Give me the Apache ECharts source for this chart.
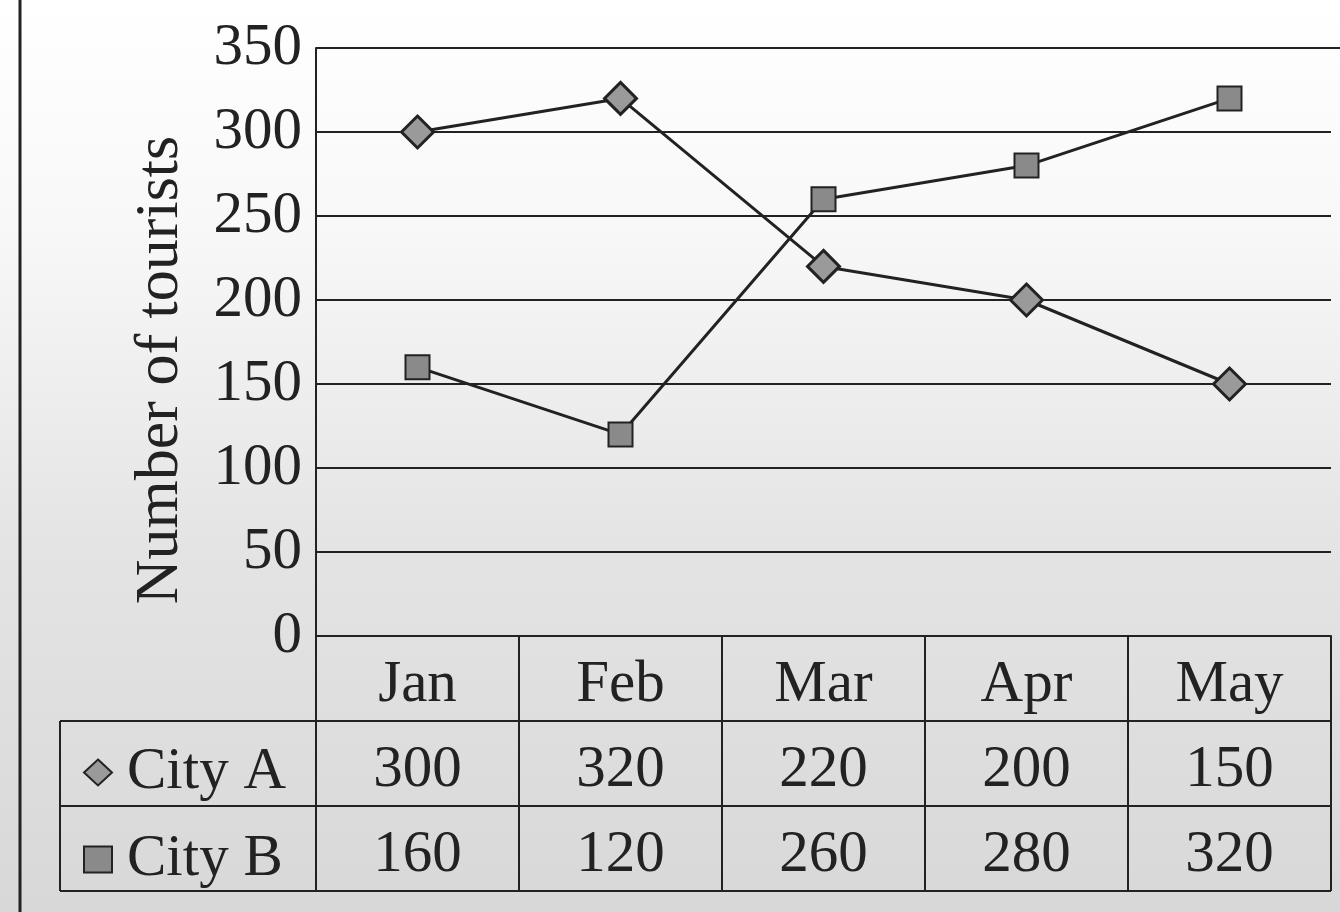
<!DOCTYPE html>
<html>
<head>
<meta charset="utf-8">
<script src="https://cdn.jsdelivr.net/npm/echarts@6/dist/echarts.min.js"></script>
<style>html,body{margin:0;padding:0;background:#fff}#c{width:1340px;height:912px}</style>
</head>
<body>
<div id="c"></div>
<script>
var months = ['Jan', 'Feb', 'Mar', 'Apr', 'May'];
var cityA = [300, 320, 220, 200, 150];
var cityB = [160, 120, 260, 280, 320];
var yTicks = [0, 50, 100, 150, 200, 250, 300, 350];
var seriesNames = ['City A', 'City B'];

var FONT = '"Liberation Serif", "DejaVu Serif", serif';
var INK = '#222';
var FS = 59;
var chart = echarts.init(document.getElementById('c'));
var rowH = 85;

var option = {
  animation: false,
  backgroundColor: {
    type: 'linear', x: 0, y: 0, x2: 0, y2: 1,
    colorStops: [{offset: 0, color: '#ffffff'}, {offset: 0.25, color: '#f8f8f8'}, {offset: 0.6, color: '#e4e4e4'}, {offset: 1, color: '#d8d8d8'}]
  },
  grid: {left: 316, right: 9, top: 48, bottom: 276, containLabel: false},
  legend: {
    show: true, orient: 'vertical', left: 78, top: 738, itemGap: 28,
    itemWidth: 28, itemHeight: 26,
    textStyle: {fontFamily: FONT, fontSize: FS, color: INK, padding: [0, 0, 0, 10]},
    data: [
      {name: seriesNames[0], icon: 'diamond', itemStyle: {color: '#9a9a9a', borderColor: INK, borderWidth: 2}},
      {name: seriesNames[1], icon: 'rect', itemStyle: {color: '#8a8a8a', borderColor: INK, borderWidth: 2}}
    ],
    selectedMode: false
  },
  xAxis: [
    {
      type: 'category', data: months, position: 'bottom',
      axisLine: {show: true, lineStyle: {color: INK, width: 2}},
      axisTick: {show: false},
      axisLabel: {fontFamily: FONT, fontSize: FS, color: INK, margin: 20}
    },
    {
      type: 'category', data: months, position: 'bottom', offset: rowH,
      axisLine: {show: false}, axisTick: {show: false},
      axisLabel: {fontFamily: FONT, fontSize: FS, color: INK, margin: 20,
        formatter: function (v, i) { return String(cityA[i]); }}
    },
    {
      type: 'category', data: months, position: 'bottom', offset: rowH * 2,
      axisLine: {show: false}, axisTick: {show: false},
      axisLabel: {fontFamily: FONT, fontSize: FS, color: INK, margin: 20,
        formatter: function (v, i) { return String(cityB[i]); }}
    }
  ],
  yAxis: {
    type: 'value', min: yTicks[0], max: yTicks[yTicks.length - 1], interval: 50,
    name: 'Number of tourists', nameLocation: 'middle', nameGap: 124, nameRotate: 90,
    nameTextStyle: {fontFamily: FONT, fontSize: 62, color: INK, padding: [0, 56, 0, 0]},
    axisLine: {show: true, lineStyle: {color: INK, width: 2}},
    axisTick: {show: false},
    axisLabel: {fontFamily: FONT, fontSize: FS, color: INK, margin: 14},
    splitLine: {show: true, lineStyle: {color: INK, width: 2}}
  },
  series: [
    {
      name: seriesNames[0], type: 'line', data: cityA, xAxisIndex: 0,
      symbol: 'diamond', symbolSize: 32,
      lineStyle: {color: INK, width: 3},
      itemStyle: {color: '#9a9a9a', borderColor: INK, borderWidth: 3}
    },
    {
      name: seriesNames[1], type: 'line', data: cityB, xAxisIndex: 0,
      symbol: 'rect', symbolSize: 24,
      lineStyle: {color: INK, width: 3},
      itemStyle: {color: '#8a8a8a', borderColor: INK, borderWidth: 2}
    }
  ]
};
chart.setOption(option);

// Data-table borders, positioned from the axis scales
var c0 = chart.convertToPixel({xAxisIndex: 0}, 0);
var c1 = chart.convertToPixel({xAxisIndex: 0}, 1);
var band = c1 - c0;
var y0 = chart.convertToPixel({yAxisIndex: 0}, 0);
var yTop = chart.convertToPixel({yAxisIndex: 0}, yTicks[yTicks.length - 1]);
var xL = c0 - band / 2;
var els = [];
var ls = {stroke: INK, lineWidth: 2};
for (var k = 0; k <= months.length; k++) {
  var x = Math.round(xL + k * band);
  els.push({type: 'line', shape: {x1: x, y1: y0, x2: x, y2: y0 + rowH * 3}, style: ls, silent: true});
}
var xRight = xL + months.length * band;
els.push({type: 'line', shape: {x1: 60, y1: y0 + rowH, x2: xRight, y2: y0 + rowH}, style: ls, silent: true});
els.push({type: 'line', shape: {x1: 60, y1: y0 + rowH * 2, x2: xRight, y2: y0 + rowH * 2}, style: ls, silent: true});
els.push({type: 'line', shape: {x1: 60, y1: y0 + rowH * 3, x2: xRight, y2: y0 + rowH * 3}, style: ls, silent: true});
els.push({type: 'line', shape: {x1: 60, y1: y0 + rowH, x2: 60, y2: y0 + rowH * 3}, style: ls, silent: true});
// outer frame line at left
els.push({type: 'line', shape: {x1: 20, y1: 0, x2: 20, y2: 912}, style: {stroke: INK, lineWidth: 3}, silent: true});
// top border of plot
els.push({type: 'line', shape: {x1: xL, y1: yTop, x2: 1340, y2: yTop}, style: ls, silent: true});
chart.setOption({graphic: {elements: els}});
</script>
</body>
</html>
